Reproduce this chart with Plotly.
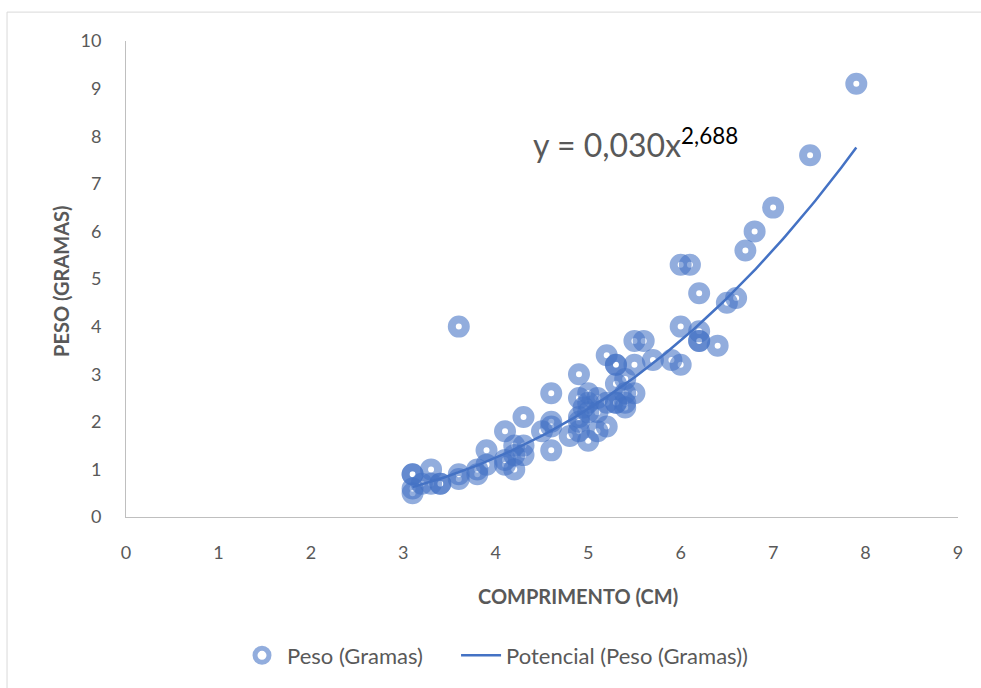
import plotly.graph_objects as go
import numpy as np

comprimento = [3.1, 3.1, 3.1, 3.1, 3.2, 3.3, 3.3, 3.4, 3.4, 3.6, 3.6, 3.6, 3.8, 3.8, 3.9, 3.9,
               4.1, 4.1, 4.1, 4.2, 4.2, 4.2, 4.3, 4.3, 4.3, 4.5, 4.6, 4.6, 4.6, 4.6, 4.8,
               4.9, 4.9, 4.9, 4.9, 4.9, 4.95, 5.0, 5.0, 5.0, 5.0, 5.1, 5.1, 5.1,
               5.2, 5.2, 5.2, 5.3, 5.3, 5.3, 5.3, 5.3, 5.4, 5.4, 5.4, 5.4, 5.5, 5.5, 5.5,
               5.6, 5.7, 5.9, 6.0, 6.0, 6.0, 6.1, 6.2, 6.2, 6.2, 6.2, 6.4, 6.5, 6.6,
               6.7, 6.8, 7.0, 7.4, 7.9]
peso = [0.5, 0.6, 0.9, 0.9, 0.7, 1.0, 0.7, 0.7, 0.7, 0.8, 0.9, 4.0, 1.0, 0.9, 1.4, 1.1,
        1.8, 1.2, 1.1, 1.5, 1.3, 1.0, 2.1, 1.3, 1.5, 1.8, 2.6, 2.0, 1.9, 1.4, 1.7,
        3.0, 2.5, 2.1, 2.0, 1.8, 2.3, 2.6, 2.4, 2.2, 1.6, 2.5, 2.2, 1.8,
        3.4, 2.4, 1.9, 3.2, 3.2, 2.8, 2.4, 2.4, 2.9, 2.6, 2.3, 2.4, 3.7, 3.2, 2.6,
        3.7, 3.3, 3.3, 3.2, 4.0, 5.3, 5.3, 4.7, 3.9, 3.7, 3.7, 3.6, 4.5, 4.6,
        5.6, 6.0, 6.5, 7.6, 9.1]

# power trendline coefficients as displayed on the chart
coef_a = 0.030
coef_b = 2.688
x_ticks = [0, 1, 2, 3, 4, 5, 6, 7, 8, 9]
y_ticks = [0, 1, 2, 3, 4, 5, 6, 7, 8, 9, 10]

xt = np.linspace(min(comprimento), max(comprimento), 120)
yt = coef_a * xt ** coef_b

FONT = "Lato"
GRAY = "#595959"
PAD = "\u00a0" * 5

fig = go.Figure()
fig.add_trace(go.Scatter(
    x=comprimento, y=peso, mode="markers", name="Peso (Gramas)" + PAD,
    marker=dict(symbol="circle-open", size=14, color="rgba(68,114,196,0.58)",
                line=dict(width=8, color="rgba(68,114,196,0.58)")),
))
fig.add_trace(go.Scatter(
    x=xt, y=yt, mode="lines", name="Potencial (Peso (Gramas))",
    line=dict(color="#4472C4", width=2.5),
))

fig.update_layout(
    width=981, height=688,
    margin=dict(l=126, r=23, t=41, b=169),
    plot_bgcolor="white", paper_bgcolor="white",
    font=dict(family=FONT, color=GRAY, size=18),
    showlegend=True,
    legend=dict(orientation="h", x=(237 - 126) / 832, xanchor="left", y=-0.291, yanchor="middle",
                font=dict(size=22, color=GRAY), itemwidth=40, tracegroupgap=0,
                bgcolor="rgba(0,0,0,0)"),
    xaxis=dict(range=[0, 9], tickvals=x_ticks, showgrid=False, zeroline=False,
               showline=True, linecolor="#BFBFBF", linewidth=1, ticks="",
               ticklabelstandoff=19, tickfont=dict(size=18, color=GRAY)),
    yaxis=dict(range=[0, 10], tickvals=y_ticks, showgrid=False, zeroline=False,
               showline=True, linecolor="#BFBFBF", linewidth=1, ticks="",
               ticklabelstandoff=20, tickfont=dict(size=18, color=GRAY)),
    shapes=[dict(type="rect", xref="paper", yref="paper", x0=-0.143, x1=1.2,
                 y0=-0.6, y1=1.0607, line=dict(color="#D9D9D9", width=1),
                 fillcolor="rgba(0,0,0,0)", layer="below")],
    annotations=[
        dict(text="<b>COMPRIMENTO (CM)</b>", xref="paper", yref="paper", x=0.543, y=-0.167,
             showarrow=False, font=dict(size=20, color=GRAY), xanchor="center", yanchor="middle"),
        dict(text="<b>PESO (GRAMAS)</b>", xref="paper", yref="paper", x=-0.078, y=0.494,
             showarrow=False, textangle=-90, font=dict(size=20, color=GRAY),
             xanchor="center", yanchor="middle"),
        dict(text="y = 0,030x<sup><span style='color:black'>2,688</span></sup>", xref="x", yref="y",
             x=4.38, y=7.85, showarrow=False, xanchor="left", yanchor="middle",
             font=dict(size=32, color=GRAY)),
    ],
)

fig.write_html("out.html")
